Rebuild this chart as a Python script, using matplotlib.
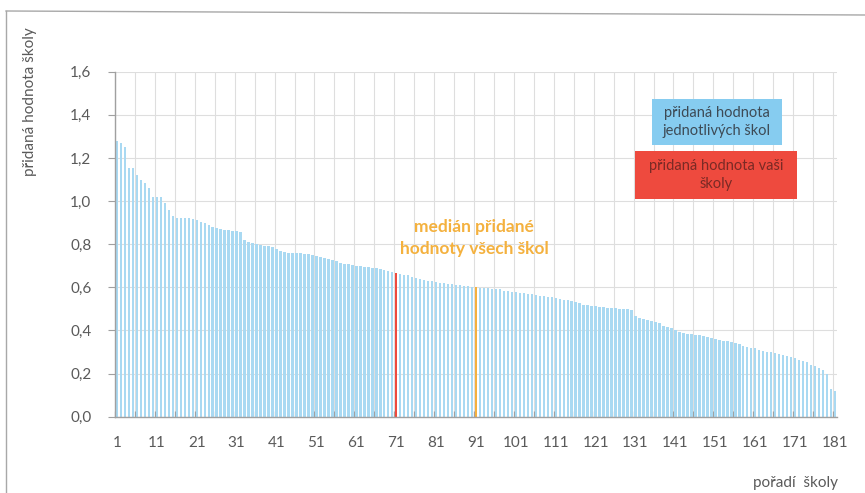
import matplotlib
matplotlib.use("Agg")
import matplotlib.pyplot as plt
from matplotlib.lines import Line2D
from matplotlib.patches import Rectangle

plt.rcParams['font.family'] = ['Lato', 'DejaVu Sans']

# ---- data ----
values = [
    1.28, 1.27, 1.25, 1.155, 1.155, 1.12, 1.10, 1.085, 1.06, 1.02,
    1.02, 1.02, 0.99, 0.96, 0.93,
    0.92, 0.92, 0.92, 0.92, 0.915, 0.91, 0.905,
    0.90, 0.89, 0.88, 0.875,
    0.87, 0.865, 0.865, 0.86, 0.86, 0.855,
    0.82, 0.81, 0.805,
    0.80, 0.795, 0.79, 0.79, 0.785, 0.78,
    0.77, 0.765, 0.76, 0.76, 0.76, 0.76, 0.755, 0.755, 0.75,
    0.745, 0.74, 0.735, 0.73, 0.725, 0.72,
    0.715, 0.71, 0.71, 0.705, 0.70,
    0.70, 0.695, 0.695, 0.69, 0.69, 0.685, 0.68, 0.675, 0.67,
    0.665,
    0.66, 0.655, 0.655, 0.65, 0.645, 0.64, 0.635, 0.63, 0.63,
    0.625, 0.62, 0.62, 0.615, 0.615, 0.61, 0.61, 0.605, 0.605, 0.60,
    0.60,
    0.595, 0.595, 0.595, 0.59, 0.59, 0.59, 0.585, 0.585,
    0.58, 0.58, 0.575, 0.575, 0.57, 0.57, 0.565, 0.56, 0.56, 0.555, 0.555,
    0.55, 0.545, 0.54, 0.54, 0.535, 0.53,
    0.525, 0.52, 0.52, 0.515, 0.515, 0.51,
    0.51, 0.505, 0.505, 0.505, 0.50, 0.50, 0.50, 0.495,
    0.465,
    0.46, 0.455, 0.45, 0.445, 0.44, 0.435,
    0.42, 0.415, 0.41, 0.40, 0.395,
    0.39, 0.385, 0.385, 0.38, 0.38, 0.375,
    0.37, 0.365, 0.36, 0.355, 0.35, 0.35,
    0.345, 0.34, 0.335, 0.33, 0.325, 0.32, 0.32,
    0.31, 0.305, 0.30, 0.30, 0.295, 0.29,
    0.285, 0.28, 0.275, 0.27, 0.265, 0.26, 0.255,
    0.24, 0.235, 0.225, 0.215, 0.20, 0.13, 0.12,
]
ranks = list(range(1, len(values) + 1))
your_school_rank = 71
median_rank = 91
x_tick_labels = [str(r) for r in range(1, len(values) + 1, 10)]
y_ticks = [0.0, 0.2, 0.4, 0.6, 0.8, 1.0, 1.2, 1.4, 1.6]

# ---- style ----
blue = '#a9d9f2'
red = '#ee4a3e'
orange = '#f4b13e'
grid_c = '#dedede'
txt_c = '#5a5a5a'

W, H = 865, 493
fig = plt.figure(figsize=(W / 100, H / 100), dpi=100)
fig.patch.set_facecolor('white')
ax = fig.add_axes([115 / W, (H - 416.7) / H, (837 - 115) / W, (416.7 - 71.7) / H])

colors = []
for r in ranks:
    if r == your_school_rank:
        colors.append(red)
    elif r == median_rank:
        colors.append(orange)
    else:
        colors.append(blue)
ax.bar(ranks, values, width=0.62, color=colors, zorder=2)

ax.set_xlim(0.5, len(values) + 0.5)
ax.set_ylim(0, 1.6)
ax.set_yticks(y_ticks)
ax.set_yticklabels([f"{v:.1f}".replace('.', ',') for v in y_ticks])
ax.set_xticks(list(range(1, len(values) + 1, 10)))
ax.set_xticklabels(x_tick_labels)
minor = [0.5 + 5 * k for k in range(0, len(values) // 5 + 2) if 0.5 + 5 * k <= len(values) + 0.5]
ax.set_xticks(minor, minor=True)

ax.tick_params(axis='x', which='major', length=0, pad=14, labelsize=11, colors=txt_c)
ax.tick_params(axis='x', which='minor', length=4, direction='in', color='#a0a0a0', width=0.9)
ax.tick_params(axis='y', length=5, direction='out', color='#a0a0a0', labelsize=11,
               colors=txt_c, pad=12)
ax.tick_params(axis='y', which='major', color='#a0a0a0')

ax.grid(axis='y', color=grid_c, lw=0.8, zorder=0)
ax.grid(axis='x', which='minor', color=grid_c, lw=0.8, zorder=0)
for s in ['top', 'right']:
    ax.spines[s].set_visible(False)
for s in ['left', 'bottom']:
    ax.spines[s].set_color('#a0a0a0')
    ax.spines[s].set_linewidth(1.0)

# axis titles
fig.text(30 / W, 1 - 102 / H, 'přidaná hodnota školy', rotation=90, ha='center',
         va='center', fontsize=11, color=txt_c)
fig.text(838 / W, 1 - 483 / H, 'pořadí  školy', ha='right', va='center',
         fontsize=11, color=txt_c)

# median annotation
fig.text(474 / W, 1 - 238 / H, 'medián přidané\nhodnoty všech škol', ha='center',
         va='center', fontsize=12.5, color=orange, fontweight='bold', linespacing=1.5)

# legend boxes
fig.patches.append(Rectangle((652 / W, 1 - 145 / H), 130 / W, 46 / H,
                             transform=fig.transFigure, facecolor='#86ccf0',
                             edgecolor='none', zorder=5))
fig.text(717 / W, 1 - 122 / H, 'přidaná hodnota\njednotlivých škol', ha='center',
         va='center', fontsize=10.5, color='#3d4a55', linespacing=1.35, zorder=6)
fig.patches.append(Rectangle((635 / W, 1 - 199 / H), 162 / W, 48 / H,
                             transform=fig.transFigure, facecolor=red,
                             edgecolor='none', zorder=5))
fig.text(716 / W, 1 - 175 / H, 'přidaná hodnota vaši\nškoly', ha='center',
         va='center', fontsize=10.5, color='#7a2a25', linespacing=1.35, zorder=6)

# chart border
fig.lines.append(Line2D([6 / W, 1.0], [1 - 11 / H, 1 - 15 / H], transform=fig.transFigure,
                        color='#a8a8a8', lw=1.0))
fig.lines.append(Line2D([6 / W, 6 / W], [1 - 11 / H, 0.0], transform=fig.transFigure,
                        color='#a8a8a8', lw=1.0))

fig.savefig('out.png', dpi=100, facecolor='white')
